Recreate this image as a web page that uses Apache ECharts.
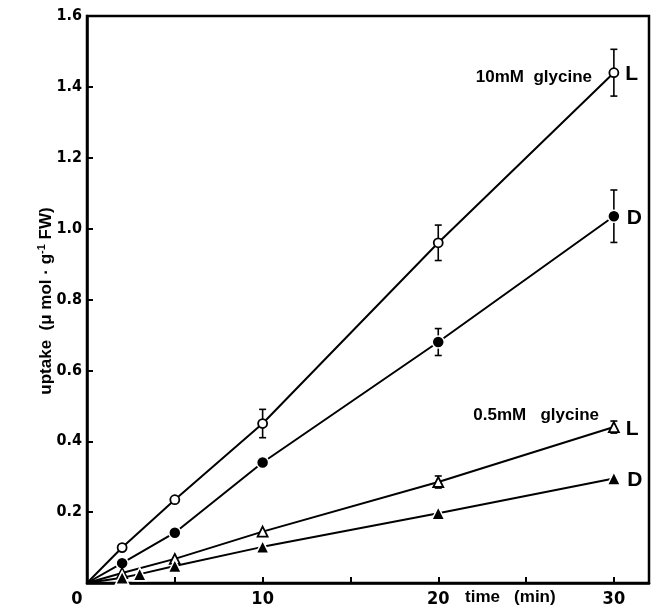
<!DOCTYPE html>
<html>
<head>
<meta charset="utf-8">
<script src="https://cdn.jsdelivr.net/npm/echarts@6/dist/echarts.min.js"></script>
<style>
  html, body { margin: 0; padding: 0; background: #fff; }
  #chart { width: 652px; height: 609px; }
</style>
</head>
<body>
<div id="chart"></div>
<script>
// time points (min)
var T = [0, 2, 5, 10, 20, 30];
var T_D05 = [0, 2, 3, 5, 10, 20, 30];

// 10 mM glycine
var L10 = [0, 0.10, 0.235, 0.45, 0.96, 1.44];
var L10_ERR = [0, 0, 0, 0.04, 0.05, 0.066];
var D10 = [0, 0.056, 0.142, 0.34, 0.68, 1.035];
var D10_ERR = [0, 0, 0, 0, 0.038, 0.074];

// 0.5 mM glycine
var L05 = [0, 0.028, 0.068, 0.145, 0.285, 0.44];
var L05_ERR = [0, 0, 0, 0, 0.017, 0.017];
var D05 = [0, 0.015, 0.025, 0.048, 0.102, 0.197, 0.295];

var X_LABELS = [0, 10, 20, 30];
var Y_LABELS = [0.2, 0.4, 0.6, 0.8, 1.0, 1.2, 1.4, 1.6];

var NARROW = "'Liberation Sans Narrow', 'DejaVu Sans Condensed', sans-serif";
var SANS = "'Liberation Sans', 'DejaVu Sans', sans-serif";

// build line points: origin without symbol, last one labelled L / D
function points(times, vals, tag) {
  return times.map(function (t, i) {
    var item = { value: [t, vals[i]] };
    if (i === 0) item.symbol = 'none';
    if (i === times.length - 1) {
      item.label = {
        show: true, position: 'right', distance: 6, formatter: tag,
        color: '#000', fontFamily: SANS, fontWeight: 'bold', fontSize: 21,
        offset: [0, 2]
      };
    }
    return item;
  });
}

function errData(times, vals, errs) {
  var out = [];
  times.forEach(function (t, i) {
    if (errs[i] > 0) out.push([t, vals[i], errs[i]]);
  });
  return out;
}

function errRender(params, api) {
  var x = api.value(0), y = api.value(1), e = api.value(2);
  var hi = api.coord([x, y + e]);
  var lo = api.coord([x, y - e]);
  var w = 3.5;
  var st = { stroke: '#000', lineWidth: 1.6 };
  return {
    type: 'group',
    children: [
      { type: 'line', shape: { x1: hi[0], y1: hi[1], x2: lo[0], y2: lo[1] }, style: st },
      { type: 'line', shape: { x1: hi[0] - w, y1: hi[1], x2: hi[0] + w, y2: hi[1] }, style: st },
      { type: 'line', shape: { x1: lo[0] - w, y1: lo[1], x2: lo[0] + w, y2: lo[1] }, style: st }
    ]
  };
}

var openStyle = { color: '#fff', borderColor: '#000', borderWidth: 1.8 };
var fillStyle = { color: '#000', borderColor: '#fff', borderWidth: 1.5 };
var lineStyle = { color: '#000', width: 2 };

var chart = echarts.init(document.getElementById('chart'));

chart.setOption({
  animation: false,
  backgroundColor: '#fff',
  grid: {
    left: 87, right: 3, top: 16, bottom: 26,
    show: true, borderColor: '#000', borderWidth: 2.5
  },
  xAxis: {
    type: 'value', min: 0, max: 32, interval: 5,
    axisLine: { lineStyle: { color: '#000', width: 2.5 } },
    axisTick: { inside: true, length: 6, lineStyle: { color: '#000', width: 2 } },
    splitLine: { show: false },
    axisLabel: {
      margin: 7,
      color: '#000', fontFamily: NARROW, fontWeight: 'bold', fontSize: 18,
      formatter: function (v) {
        if (X_LABELS.indexOf(v) < 0) return '';
        return v === 0 ? '{o|0}' : String(v);
      },
      rich: {
        o: { padding: [0, 20, 0, 0], color: '#000', fontFamily: NARROW, fontWeight: 'bold', fontSize: 18 }
      }
    }
  },
  yAxis: {
    type: 'value', min: 0, max: 1.6, interval: 0.2,
    axisLine: { show: true, lineStyle: { color: '#000', width: 2.5 } },
    axisTick: { show: true, inside: true, length: 6, lineStyle: { color: '#000', width: 2 } },
    splitLine: { show: false },
    axisLabel: {
      margin: 5,
      color: '#000', fontFamily: NARROW, fontWeight: 'bold', fontSize: 16,
      formatter: function (v) {
        var r = Math.round(v * 10) / 10;
        return Y_LABELS.indexOf(r) < 0 ? '' : r.toFixed(1);
      }
    }
  },
  graphic: [
    {
      type: 'text', x: 46, y: 301, rotation: Math.PI / 2,
      style: {
        text: 'uptake  (μ mol · g{s|-1} FW)',
        fill: '#000', font: 'bold 17px ' + SANS,
        align: 'center', verticalAlign: 'middle',
        rich: { s: { fontSize: 11, fontWeight: 'bold', fontFamily: SANS, verticalAlign: 'top', padding: [0, 0, 8, 0] } }
      }
    },
    {
      type: 'text', x: 592, y: 77,
      style: { text: '10mM  glycine', fill: '#000', font: 'bold 17px ' + SANS, align: 'right', verticalAlign: 'middle' }
    },
    {
      type: 'text', x: 599, y: 415,
      style: { text: '0.5mM   glycine', fill: '#000', font: 'bold 17px ' + SANS, align: 'right', verticalAlign: 'middle' }
    },
    {
      type: 'text', x: 465, y: 597,
      style: { text: 'time   (min)', fill: '#000', font: 'bold 17px ' + SANS, align: 'left', verticalAlign: 'middle' }
    }
  ],
  series: [
    {
      type: 'custom', renderItem: errRender, z: 1, silent: true,
      data: errData(T, L10, L10_ERR).concat(errData(T, D10, D10_ERR), errData(T, L05, L05_ERR))
    },
    {
      name: 'L 10mM', type: 'line', z: 3, symbol: 'circle', symbolSize: 9,
      itemStyle: openStyle, lineStyle: lineStyle, data: points(T, L10, 'L')
    },
    {
      name: 'D 10mM', type: 'line', z: 3, symbol: 'circle', symbolSize: 12,
      itemStyle: fillStyle, lineStyle: lineStyle, data: points(T, D10, 'D')
    },
    {
      name: 'L 0.5mM', type: 'line', z: 3, symbol: 'triangle', symbolSize: 10,
      itemStyle: openStyle, lineStyle: lineStyle, data: points(T, L05, 'L')
    },
    {
      name: 'D 0.5mM', type: 'line', z: 3, symbol: 'triangle', symbolSize: 13,
      itemStyle: fillStyle, lineStyle: lineStyle, data: points(T_D05, D05, 'D')
    }
  ]
});
</script>
</body>
</html>
